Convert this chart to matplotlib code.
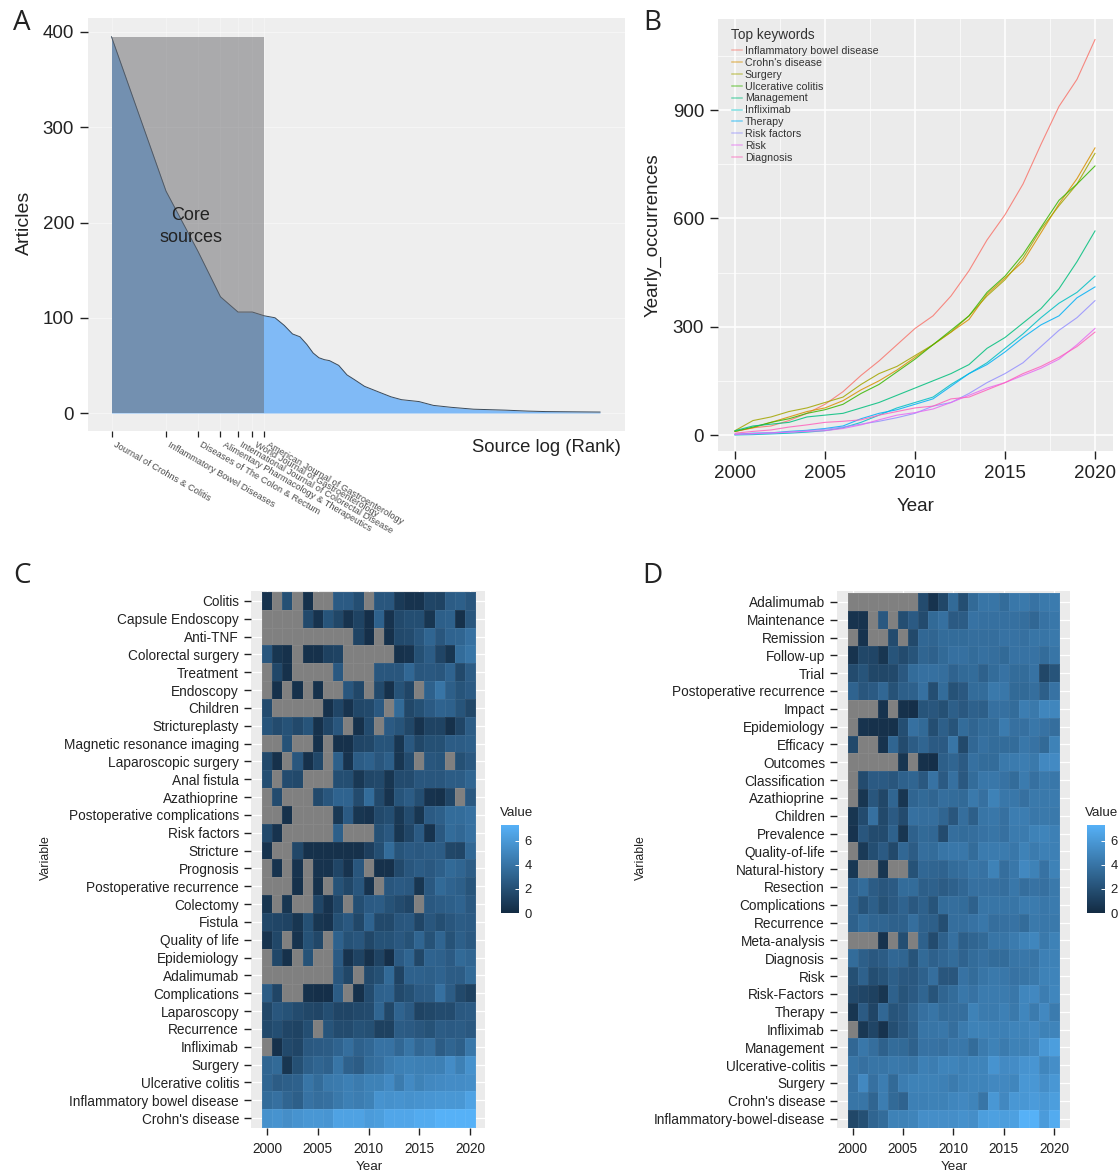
import numpy as np
import matplotlib
matplotlib.use("Agg")
import matplotlib.pyplot as plt
from matplotlib.colors import LinearSegmentedColormap, Normalize
from matplotlib.lines import Line2D

plt.rcParams['font.family'] = ['Liberation Sans', 'DejaVu Sans']
N = None
W, H = 1118, 1174

# ---------- Panel A data
ranks = [1,2,3,4,5,6,7,8,9,10,11,12,13,14,15,16,18,20,22,25,30,35,40,50,60,75,100,150,200,250,500]
articles = [395,233,170,122,106,106,102,100,92,83,80,72,63,58,56,55,50,40,35,28,22,17,14,12,8,6,4,3,2,1.5,1]
core_limit = 7
core_names = ["Journal of Crohns & Colitis","Inflammatory Bowel Diseases","Diseases of The Colon & Rectum",
              "Alimentary Pharmacology & Therapeutics","International Journal of Colorectal Disease",
              "World Journal of Gastroenterology","American Journal of Gastroenterology"]
a_yticks = [0,100,200,300,400]

# ---------- Panel B data
years = list(range(2000,2021))
kw_names = ["Inflammatory bowel disease","Crohn's disease","Surgery","Ulcerative colitis","Management",
            "Infliximab","Therapy","Risk factors","Risk","Diagnosis"]
kw_colors = ["#F8766D","#D89000","#A3A500","#39B600","#00BF7D","#00BFC4","#00B0F6","#9590FF","#E76BF3","#FF62BC"]
ibd = [10,20,25,40,60,85,120,165,205,250,295,330,385,455,540,610,695,805,910,985,1095]
crohn = [10,20,35,50,65,75,95,125,150,180,215,250,285,320,390,435,480,560,640,710,795]
surgery = [12,40,50,65,75,90,105,140,170,190,220,250,285,330,385,430,490,570,635,695,780]
uc = [10,22,35,45,60,70,85,115,140,175,210,250,290,330,395,440,500,575,650,695,745]
management = [12,25,30,35,50,55,60,75,90,110,130,150,170,195,240,270,310,350,405,480,565]
infliximab = [0,1,3,5,8,12,20,35,55,75,90,105,140,170,200,240,280,325,365,395,440]
therapy = [2,5,6,10,13,18,25,45,60,70,85,100,135,170,195,230,270,305,330,380,410]
risk_factors = [1,3,5,8,12,16,22,30,38,48,60,80,90,115,145,170,200,245,290,325,372]
risk = [2,4,6,8,10,12,18,28,42,55,62,72,90,110,130,145,165,185,210,250,295]
diagnosis = [5,10,14,22,28,35,38,42,55,65,75,80,100,105,125,145,170,190,215,245,285]
kw_series = [ibd,crohn,surgery,uc,management,infliximab,therapy,risk_factors,risk,diagnosis]

# ---------- Panel C data
c_labels = ["Colitis","Capsule Endoscopy","Anti-TNF","Colorectal surgery","Treatment","Endoscopy","Children",
 "Strictureplasty","Magnetic resonance imaging","Laparoscopic surgery","Anal fistula","Azathioprine",
 "Postoperative complications","Risk factors","Stricture","Prognosis","Postoperative recurrence","Colectomy",
 "Fistula","Quality of life","Epidemiology","Adalimumab","Complications","Laparoscopy","Recurrence","Infliximab",
 "Surgery","Ulcerative colitis","Inflammatory bowel disease","Crohn's disease"]
c_values = [
[0.4,N,1.7,N,0.3,N,N,2.2,2.2,1.6,N,2,2,0.7,0.4,0.4,1.2,1.1,2.3,2.4,2],
[N,N,N,N,1.4,0.4,1.9,1.3,0.4,1.1,0.2,2.5,0.4,1.4,1.6,1.6,0.5,2.4,2.5,0.3,2],
[N,N,N,N,N,N,N,N,N,1.1,0.2,N,0.3,1.4,1.5,2,2.7,2,2.6,2.7,3.2],
[2,0.5,0.3,N,0.3,0.3,1,1.1,N,N,N,N,N,0.3,0.4,1.7,2.3,1.2,0.5,3,3.4],
[N,1.3,0.3,N,N,N,N,2.1,N,N,N,2,2,2,2.8,2,2.1,2,2.6,1.4,2.3],
[N,0.3,N,0.3,N,0.3,N,N,2,1.3,N,1.4,0.3,1.8,1.2,N,2.5,3.4,2.4,1.9,2.2],
[1.5,N,N,N,N,N,0.3,1.2,0.4,1.3,1.4,2.1,N,2.9,1.3,1.7,2.2,2.6,2.5,1.9,1.3],
[1.9,1.5,1.8,1.4,1.9,0.3,1.2,2,N,0.3,1.5,N,2.2,1.9,1.3,0.4,1.1,1.1,0.3,1.2,2.3],
[N,N,1.8,N,N,0.3,N,0.3,0.3,1.2,1.3,1.9,1.9,0.5,2.1,1.3,1.7,1.7,2.3,2.3,2.4],
[1.4,0.3,N,2,0.3,1.3,N,2.4,0.4,2.3,2.5,2,2.4,0.5,1.5,N,2,1.9,N,1.7,2.1],
[1.6,N,1.5,1.4,N,N,N,1.6,1.6,0.6,1.3,1.4,0.5,1.5,1.5,2,2,2,2.3,2.3,2.7],
[N,1.5,N,N,N,1.4,2,2.6,2.6,1.5,3,1.4,0.4,1.9,2.3,1.6,0.4,0.3,1.2,N,2.1],
[N,N,0.3,N,N,N,N,0.6,2.2,0.5,0.4,1.4,1.6,0.6,1.5,0.5,2.2,2.4,3,3,3.2],
[1.4,0.4,N,N,N,N,N,2.4,N,N,N,1.7,2.1,0.5,1.2,2.2,0.4,2.1,3,2.8,3.2],
[0.4,N,N,1.3,0.3,0.3,0.3,0.3,0.3,0.3,0.9,1.6,3,1.9,2.2,2.1,2.3,2.3,1.3,1.2,2.8],
[N,0.4,N,0.4,N,0.4,0.4,1.2,0.4,2,N,0.3,0.3,1.4,2,2.3,2.1,2.4,2.9,2.7,2.3],
[N,N,N,0.3,N,0.3,N,1.8,1.3,2,0.4,N,2,2.2,2.1,0.5,2.1,2.9,2.6,2.4,1.9],
[0.5,N,0.5,N,N,1.2,0.4,1.3,N,1.6,2.2,2.3,1.8,1.5,1.2,N,2.1,2.3,2.4,2.6,2.1],
[1.3,1.2,1.1,0.5,1.7,0.5,0.4,1.7,2.1,1.3,2.6,1.4,1.4,2,2.1,1.2,2,1.6,2,2.3,2.2],
[0.4,1.3,N,0.4,1.8,1.3,N,2.5,1.8,2,1.3,1.8,1.8,2.1,1.8,2.7,1.8,2.7,1.8,2.4,2.1],
[N,1.3,0.3,N,1.8,N,N,2.2,0.4,1.1,0.3,1.1,0.2,2.2,2.7,1.3,2.6,2.5,2.2,2.9,2.7],
[N,N,N,N,N,N,N,2,1.3,N,1.4,1.7,2.9,1.1,2.5,2.5,2.4,2.6,2.3,2.3,2.9],
[2.3,1.2,N,N,0.3,0.2,0.2,2.3,N,0.3,1.5,2.5,2.6,1.4,1.7,2.2,2.3,3.2,2.3,1.4,1],
[1.3,2,1.8,1.5,1.3,1.2,1.6,1.2,1.2,1.4,1.5,2.7,1.3,2.6,2.2,1.1,1.3,1.5,1.5,2.1,2.2],
[1.4,1.6,1.2,1.1,1.6,N,1.9,1.5,1.5,1.8,1.7,1,1,2.3,2.2,2,1.8,2.3,2.2,2.3,2.1],
[N,0.3,1.4,1.2,2.1,2.2,2.3,2.6,3.1,2.5,2.8,3.3,3.3,2.8,3.4,2.8,3.1,2.3,2.7,2.4,3.5],
[2.7,2.9,0.5,1.7,2.4,2.7,2.5,3.4,2.5,2.3,3,3.2,3.7,3.9,4,3.9,3.9,3.9,4.5,3.9,4.7],
[2.7,2.3,2.4,2.5,3.4,3,3.6,3.7,3.9,3.7,4,4,4.4,3.7,4.4,4,4.3,4.4,4.5,4.5,4.6],
[3,3.2,2.7,2.4,3.3,3.1,3.2,3.6,3.9,3.8,4,4.8,4.7,4.8,4.7,4.8,4.9,5,5,5,5.5],
[4.7,4.8,4.6,4.8,5,5,4.9,5.5,5.5,5.5,5.2,5.3,5.7,5.7,5.7,5.9,5.9,6.5,6.5,6.5,6.5],
]

# ---------- Panel D data
d_labels = ["Adalimumab","Maintenance","Remission","Follow-up","Trial","Postoperative recurrence","Impact","Epidemiology",
 "Efficacy","Outcomes","Classification","Azathioprine","Children","Prevalence","Quality-of-life","Natural-history",
 "Resection","Complications","Recurrence","Meta-analysis","Diagnosis","Risk","Risk-Factors","Therapy","Infliximab",
 "Management","Ulcerative-colitis","Surgery","Crohn's disease","Inflammatory-bowel-disease"]
d_values = [
[N,N,N,N,N,N,N,1.5,0.4,1.3,2.9,1.6,2.9,3.4,3.4,3,3.5,3.6,3.3,3.6,3.7],
[0.4,0.4,N,2.1,N,1.6,2.2,1.5,2.9,3.2,2.2,2.3,3.3,3.2,3.2,3.2,3.2,3.1,2.8,3.3,3.5],
[N,0.4,N,N,1.5,N,1.4,2.8,2.7,3,3,3,3.1,3.1,3.1,3.3,3.3,3.2,3.4,3.4,3.6],
[0.4,1.3,1.2,0.5,1.9,1.5,1.9,2.7,2.5,2.9,3.2,3.2,3,3.2,3.1,2.9,3.3,3.3,3.3,3,3.4],
[1.5,1.9,1.3,1.3,1.4,2.1,3,3.2,3.2,3.1,2.6,2.9,3,2.5,3,3.3,3,3,3.3,1.3,1.9],
[2.6,2,2.2,2.8,1.8,2.4,2.5,3.2,1.6,3,1.8,2.1,3,3,3.6,3.5,2.9,2.9,3.1,2.4,3.3],
[N,N,N,0.4,N,0.3,0.2,1.9,2,1.7,2.4,2.1,2.5,2.4,3.2,3.2,3,3.8,3.6,4.2,4.2],
[N,0.4,0.3,0.3,0.3,1.6,3.2,2.9,1.6,2.4,1.9,3,2.7,3,3,3.7,3.2,3.2,3.5,3.3,3.1],
[1.4,N,N,0.4,2.7,1.5,2.3,2.7,2.2,2.2,3.4,1.4,2.8,3.2,3,3,3,3.5,3.3,2.9,4],
[N,N,N,N,N,0.5,N,0.3,0.2,2.4,2.7,2.2,3.2,3,3,3.6,3.7,3.8,3.6,4.3,4.4],
[N,1.5,2.2,2.2,2,2.5,2.7,2.1,3.3,2.2,3.2,2.1,3,3.5,3.5,3.3,3,3.7,3.2,3.6,3.5],
[N,0.5,2,1.3,2.7,0.5,2.7,2.9,2.7,3.1,3,2.9,3.6,3.2,4,3.5,3.5,3.2,3.6,3.6,3.7],
[0.5,1.5,3.2,1.4,2.2,1.5,3.2,3.1,3.1,2.7,2,3.1,2.4,3.4,3.5,3.2,3.8,3.8,3.5,3.6,3.6],
[0.4,2,1.5,1.5,2.5,0.5,2.5,2.9,2.8,1.5,3.1,3,3.1,3.3,3.4,3.2,3.7,3.7,4,4.1,3.9],
[N,0.7,1.6,2.2,1.4,2.8,2.3,3.1,3,3.4,3.5,3.5,3,3.7,3.7,3.7,3.5,4,3.7,3.9,3.9],
[0.6,N,N,0.5,N,N,1.8,2.8,2.7,2.6,3,3.1,3.4,3.3,4,3.1,3.5,4.3,4,3.3,4],
[2.6,3,2.3,2,2.2,3,3,2.4,2.5,2.3,2.5,2.8,3.2,3.2,3.2,3.1,3.5,3.1,3.3,3.2,3.6],
[2.6,1.9,2.4,1.8,2.2,2.6,2.1,2.5,1.9,3,3.1,3,2.5,3.4,3.4,3.4,3.4,3.7,3.7,3.5,3.7],
[2.5,3,2.7,2.7,2.5,2.5,3.1,2.5,2.4,1.6,3.1,3.1,3.3,3.5,3.1,3.2,3.3,3,3.6,3.5,3.6],
[N,N,N,0.4,N,1.6,N,2.5,1.5,2.5,3.2,2.4,2.7,2.9,3.4,3.4,3.7,4,4.2,3.6,4],
[3,2.4,2.1,2.3,2.8,2.7,1.9,2.9,2.5,2.8,3,2.6,3,3.2,3,3,3.4,3.5,3.4,3.9,4],
[1.7,2.5,1.6,1.9,2.4,2.1,2.1,2.5,3.1,2,2,3.3,3,3.4,3.6,3.5,3.3,3.4,3.6,4,4.1],
[1.4,1.2,1,0.5,2.5,1.9,2.2,2.7,1.9,2.7,3,3.5,3.3,3.7,3.7,3.7,3.5,4.2,4.3,3.8,4.2],
[0.5,2.2,1.2,2.8,1.9,2.1,2.7,3.2,3.4,3,3.1,3.1,4,3.7,3.7,3.9,3.6,4.2,3.7,4.3,3.7],
[N,0.6,1.2,0.4,1.6,2.1,2.5,3.4,3.4,3.5,3.1,3.7,4,4,3.9,3.9,4.1,4.1,4.3,4,4.1],
[2.8,3.5,3.1,2.5,3,2.9,2.5,3.3,3.3,3.2,3.5,3.5,3,3.7,4,3.7,4,4,4.3,5,5.3],
[3.4,3.2,3.4,3.4,3.6,3.5,3.4,3.9,3.8,4.1,4.1,3.9,4.1,4.1,4.8,4.4,4.5,4.8,4.9,4.2,4.6],
[3.3,4.3,3.2,3.8,2.9,3.8,4,4,4,3.9,3.7,4,4.1,4.1,4.3,4.3,4.2,5,5,4.6,5],
[3.4,3.4,2.7,3.8,2.9,2.6,3.9,3.9,4,4,4.2,4.3,4.1,3.4,5,4.3,5,5,5.2,5,5.3],
[1.3,1.7,2.7,3,4,4,4.1,4.6,4.6,4.6,4.6,4.7,4.6,5.3,5.4,5.3,5.4,6.3,6.3,5.2,5.9],
]
heat_xticks = [2000,2005,2010,2015,2020]
bar_ticks = [0,2,4,6]

fig = plt.figure(figsize=(W/100, H/100), dpi=100, facecolor='white')

def axpx(l, t, r, b):
    return fig.add_axes([l/W, 1-b/H, (r-l)/W, (b-t)/H])

def figtext(x, y, s, **k):
    return fig.text(x/W, 1-y/H, s, **k)

for s, x, y in [("A",22,23),("B",652,23),("C",22,576),("D",652,576)]:
    figtext(x, y, s, fontsize=20, ha='center', va='center', family=['Open Sans','DejaVu Sans'], color='#222222')

def style(ax, bg='#EBEBEB'):
    ax.set_facecolor(bg)
    for sp in ax.spines.values():
        sp.set_visible(False)
    ax.set_axisbelow(True)

# ---------- Panel A
ax = axpx(88, 18, 625, 431)
style(ax, '#EEEEEE')
ax.set_xscale('log')
ax.set_xlim(10**(-23.5/181), 10**((625-111.5)/181))
ax.set_ylim(-18/0.9525, (413-18)/0.9525)
ax.fill_between(ranks, 0, articles, color='#80BAF6', lw=0, zorder=2)
ax.plot(ranks, articles, color='#3A4A5A', lw=0.7, zorder=3)
ax.fill_between([1, core_limit], 0, [max(articles)]*2, color='#68686C', alpha=0.5, lw=0, zorder=4)
ax.grid(True, which='major', axis='y', color='white', lw=0.5, alpha=0.6)
ax.set_yticks(a_yticks)
ax.tick_params(axis='y', labelsize=13.5, length=6, width=1, color='#222222', labelcolor='#222222', pad=4)
ax.set_xticks(list(range(1, core_limit+1)))
ax.set_xticklabels([''] * core_limit)
ax.minorticks_off()
ax.grid(True, which='major', axis='x', color='white', lw=0.5, alpha=0.5)
ax.tick_params(axis='x', length=4.5, width=0.9, color='#222222')
ax.text(2.75, 196, "Core\nsources", fontsize=13, ha='center', va='center', color='#222222', linespacing=1.4, zorder=5)
ax.set_ylabel("Articles", fontsize=14, color='#222222')
ax.yaxis.set_label_coords((33-88)/(625-88), (431-223)/(431-18))
figtext(621, 447, "Source log (Rank)", fontsize=13.3, ha='right', va='center', color='#222222')
for r, name in zip(range(1, core_limit+1), core_names):
    ax.annotate(name, (r, 0), xycoords=('data', 'axes fraction'), xytext=(3.5, -6.5), textcoords='offset points',
                rotation=-30, rotation_mode='anchor', ha='left', va='top', fontsize=6.7, color='#4D4D4D')

# ---------- Panel B
ax = axpx(718, 19, 1113, 451)
style(ax)
ax.set_xlim(2000-17/18, 2020+18/18)
ax.set_ylim(-16/0.3611, (435-19)/0.3611)
ax.set_xticks([2000,2005,2010,2015,2020])
ax.set_yticks([0,300,600,900])
ax.set_xticks([2002.5,2007.5,2012.5,2017.5], minor=True)
ax.set_yticks([150,450,750,1050], minor=True)
ax.grid(True, which='major', color='white', lw=1.1)
ax.grid(True, which='minor', color='white', lw=0.5)
ax.tick_params(which='minor', length=0)
ax.tick_params(which='major', labelsize=13.5, length=6, width=1, color='#222222', labelcolor='#222222', pad=4)
handles = []
for name, col, vals in zip(kw_names, kw_colors, kw_series):
    ax.plot(years, vals, color=col, lw=0.8, alpha=0.85)
    handles.append(Line2D([0],[0], color=col, lw=1.1, alpha=0.5, label=name))
leg = ax.legend(handles=handles, loc='upper left', bbox_to_anchor=((732-718)/395, 1-(46-19)/432),
                frameon=False, fontsize=7.7, labelspacing=0.175, handlelength=0.9, handletextpad=0.3,
                borderaxespad=0, borderpad=0)
for t in leg.get_texts():
    t.set_color('#333333')
figtext(731, 35, "Top keywords", fontsize=9.8, ha='left', va='center', color='#333333')
ax.set_xlabel("Year", fontsize=13.5, color='#222222', labelpad=11.5)
ax.set_ylabel("Yearly_occurrences", fontsize=13.5, color='#222222')
ax.yaxis.set_label_coords((662-718)/(1113-718), (451-235)/(451-19))

# ---------- Heatmaps
cmap = LinearSegmentedColormap.from_list('gg', ['#132B43', '#56B1F7'])
cmap.set_bad('#808080')
norm = Normalize(0, 6.2)

def heat(rect, cell_left, cell_w, cell_top, cell_bot, labels, values, xl_y, yl_x, bar_rect, legend_x):
    l, t, r, b = rect
    ax = axpx(l, t, r, b)
    style(ax)
    rh = (cell_bot-cell_top)/len(labels)
    ax.set_xlim(1999.5+(l-cell_left)/cell_w, 1999.5+(r-cell_left)/cell_w)
    ax.set_ylim(-0.5+(b-cell_top)/rh, -0.5+(t-cell_top)/rh)
    arr = np.array([[np.nan if v is None else v for v in row] for row in values], dtype=float)
    xe = np.arange(1999.5, 2021.5)
    ye = np.arange(-0.5, len(labels))
    ax.pcolormesh(xe, ye, np.ma.masked_invalid(arr), cmap=cmap, norm=norm, edgecolors=(1,1,1,0.06), linewidth=0.4, zorder=2)
    ax.set_yticks(range(len(labels)))
    ax.set_yticklabels(labels)
    ax.set_xticks(heat_xticks)
    ax.grid(True, color='white', lw=0.9)
    ax.tick_params(axis='y', labelsize=9.8, length=5, width=1, color='#222222', labelcolor='#222222', pad=3.6)
    ax.tick_params(axis='x', labelsize=9.8, length=5, width=1, color='#222222', labelcolor='#222222', pad=5)
    figtext((l+r)/2+1, xl_y, "Year", fontsize=9.6, ha='center', va='center', color='#222222')
    figtext(yl_x, 858, "Variable", fontsize=8.9, ha='center', va='center', rotation=90, color='#222222')
    cax = axpx(*bar_rect)
    grad = np.linspace(0, 1, 256).reshape(-1, 1)
    cax.imshow(grad, origin='lower', aspect='auto', cmap=cmap, extent=[0, 1, 0, 7.3])
    cax.set_xticks([])
    cax.set_yticks(bar_ticks)
    cax.yaxis.tick_right()
    cax.tick_params(axis='y', direction='in', length=3, width=0.7, color='white', labelsize=9.4,
                    labelcolor='#222222', pad=4)
    for sp in cax.spines.values():
        sp.set_visible(False)
    figtext(legend_x, 813, "Value", fontsize=9.6, ha='left', va='center', color='#222222')

heat((251, 591, 485, 1128), 262, 10.15, 592, 1127, c_labels, c_values, 1167, 46, (501, 825, 519, 913), 500)
heat((837, 591, 1070, 1128), 847.5, 10.07, 593, 1127.5, d_labels, d_values, 1167, 641, (1087, 825, 1105, 913), 1085)

fig.savefig("out.png", dpi=100)
